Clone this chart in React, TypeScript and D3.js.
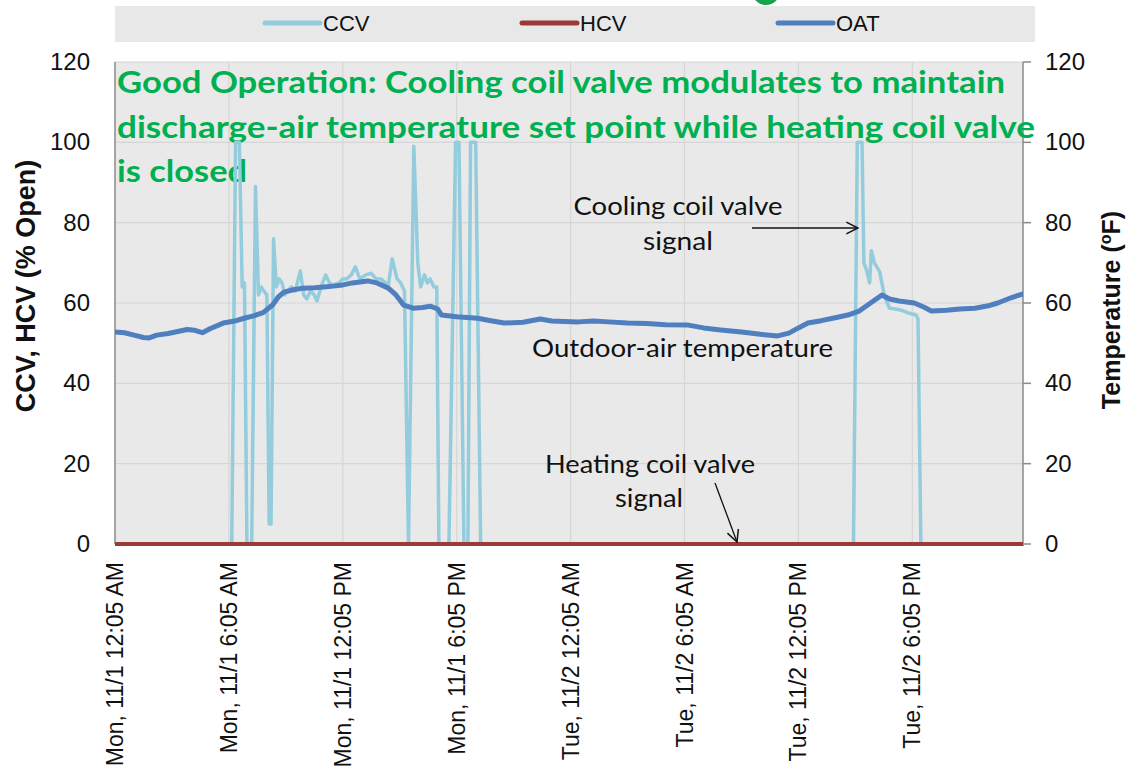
import React from "react";
import * as d3 from "d3";

// ---- Data (hours since Mon 11/1 12:05 AM) ----
const xTickHours = [0, 6, 12, 18, 24, 30, 36, 42];
const xTickLabels = [
  "Mon, 11/1 12:05 AM",
  "Mon, 11/1 6:05 AM",
  "Mon, 11/1 12:05 PM",
  "Mon, 11/1 6:05 PM",
  "Tue, 11/2 12:05 AM",
  "Tue, 11/2 6:05 AM",
  "Tue, 11/2 12:05 PM",
  "Tue, 11/2 6:05 PM",
];
const yTicks = [0, 20, 40, 60, 80, 100, 120];

const ccvSeries: [number, number][] = [
  [0, 0], [6.15, 0], [6.35, 100], [6.55, 100], [6.7, 64], [6.82, 65], [6.95, 0], [7.2, 0],
  [7.4, 89], [7.56, 62], [7.7, 64], [7.83, 63], [8.0, 62], [8.12, 5], [8.22, 5], [8.35, 76],
  [8.5, 64], [8.65, 66], [8.8, 65], [8.95, 62], [9.06, 63], [9.3, 64], [9.5, 63], [9.76, 68],
  [9.94, 62], [10.1, 61], [10.3, 63], [10.5, 62], [10.64, 60.5], [10.85, 64], [11.1, 67],
  [11.3, 65], [11.5, 64.5], [11.8, 65], [12.0, 66], [12.2, 66], [12.45, 67], [12.66, 69],
  [12.9, 66], [13.2, 67], [13.5, 67.4], [13.75, 66], [14.0, 66], [14.25, 65], [14.4, 64.5],
  [14.6, 71], [14.86, 66], [15.05, 65], [15.25, 63], [15.46, 0], [15.74, 99], [15.95, 70],
  [16.1, 64], [16.3, 67], [16.45, 65], [16.6, 66], [16.8, 64], [16.95, 64], [17.06, 0],
  [17.59, 0], [17.94, 100], [18.12, 100], [18.38, 0], [18.59, 0], [18.73, 100], [19.0, 100],
  [19.26, 0],
  [38.9, 0], [39.1, 100], [39.35, 100], [39.45, 70], [39.6, 68], [39.75, 65], [39.84, 73],
  [40.0, 70], [40.28, 67.8], [40.54, 61.6], [40.8, 58.7], [41.1, 58.5], [41.42, 58.2],
  [41.8, 57.5], [42.2, 57], [42.3, 56], [42.45, 0], [47.83, 0],
];

const hcvSeries: [number, number][] = [[0, 0], [47.83, 0]];

const oatSeries: [number, number][] = [
  [0, 52.8], [0.5, 52.6], [1.0, 52.0], [1.5, 51.4], [1.8, 51.3], [2.2, 52.0], [2.8, 52.4],
  [3.3, 52.9], [3.8, 53.4], [4.2, 53.2], [4.6, 52.6], [5.0, 53.6], [5.7, 55.0], [6.3, 55.5],
  [6.8, 56.2], [7.3, 56.8], [7.8, 57.6], [8.3, 59.5], [8.6, 61.5], [8.9, 62.7], [9.4, 63.3],
  [9.9, 63.7], [10.5, 63.8], [11.0, 64.0], [11.5, 64.2], [12.0, 64.5], [12.5, 65.0],
  [13.0, 65.3], [13.3, 65.5], [13.8, 65.0], [14.4, 63.7], [14.8, 62.0], [15.2, 59.5],
  [15.7, 58.7], [16.2, 58.9], [16.6, 59.2], [17.0, 58.5], [17.2, 57.0], [18.0, 56.6],
  [19.1, 56.2], [19.8, 55.6], [20.5, 55.0], [21.5, 55.2], [22.4, 56.0], [23.0, 55.5],
  [24.4, 55.3], [25.2, 55.5], [26.0, 55.3], [27.0, 55.0], [28.0, 54.9], [29.0, 54.6],
  [30.2, 54.5], [31.0, 53.8], [31.9, 53.3], [33.0, 52.8], [34.0, 52.2], [34.9, 51.8],
  [35.5, 52.5], [36.0, 53.8], [36.5, 55.0], [37.2, 55.6], [38.0, 56.4], [38.6, 57.0],
  [39.2, 58.0], [39.8, 60.0], [40.4, 62.0], [40.8, 61.0], [41.3, 60.5], [42.1, 60.0],
  [42.6, 59.0], [43.0, 58.0], [43.8, 58.2], [44.5, 58.5], [45.3, 58.7], [46.0, 59.3],
  [46.5, 60.0], [47.2, 61.3], [47.83, 62.3],
];

const legendItems = ["CCV", "HCV", "OAT"];
const titleLines = [
  "Good Operation: Cooling coil valve modulates to maintain",
  "discharge-air temperature set point while heating coil valve",
  "is closed",
];

// ---- Layout ----
const W = 1132;
const H = 775;
const left = 115;
const right = 1023;
const top = 62;
const bottom = 544;

const COL_CCV = "#93cddd";
const COL_HCV = "#9b3a37";
const COL_OAT = "#4f7fbf";
const GREEN = "#00b050";
const AXIS_FONT = "'Liberation Sans', Arial, sans-serif";
const NOTE_FONT = "Lato, 'Open Sans', sans-serif";

export default function App() {
  const x = d3.scaleLinear().domain([0, 47.83]).range([left, right]);
  const yL = d3.scaleLinear().domain([0, 120]).range([bottom, top]);
  const yR = d3.scaleLinear().domain([0, 120]).range([bottom, top]);

  const lineL = d3
    .line<[number, number]>()
    .x((d) => x(d[0]))
    .y((d) => yL(d[1]));
  const lineR = d3
    .line<[number, number]>()
    .x((d) => x(d[0]))
    .y((d) => yR(d[1]))
    .curve(d3.curveLinear);

  const legendX = [265, 522, 778];
  const legendColors = [COL_CCV, COL_HCV, COL_OAT];

  return (
    <svg
      width={W}
      height={H}
      style={{ position: "absolute", left: 0, top: 0, background: "#fff" }}
    >
      <defs>
        <clipPath id="plotClip">
          <rect x={left} y={top - 3} width={right - left} height={bottom - top + 6} />
        </clipPath>
        <marker
          id="openArrow"
          viewBox="0 0 12 12"
          refX="11"
          refY="6"
          markerWidth="14"
          markerHeight="14"
          markerUnits="userSpaceOnUse"
          orient="auto"
        >
          <path d="M1,1 L11,6 L1,11" fill="none" stroke="#111" strokeWidth="1.3" />
        </marker>
      </defs>

      {/* green blob at top */}
      <circle cx={766} cy={-9} r={14} fill="#16a34a" />

      {/* legend */}
      <rect x={115} y={6} width={920} height={36} fill="#e8e8e8" />
      {legendItems.map((name, i) => (
        <g key={name}>
          <line
            x1={legendX[i]}
            x2={legendX[i] + 55}
            y1={23}
            y2={23}
            stroke={legendColors[i]}
            strokeWidth={5}
            strokeLinecap="round"
          />
          <text
            x={legendX[i] + 58}
            y={31}
            fontFamily={AXIS_FONT}
            fontSize={22}
            fill="#111"
          >
            {name}
          </text>
        </g>
      ))}

      {/* plot background */}
      <rect x={left} y={top} width={right - left} height={bottom - top} fill="#e9e9e9" />

      {/* gridlines */}
      {yTicks.map((t) => (
        <line
          key={"gy" + t}
          x1={left}
          x2={right}
          y1={yL(t)}
          y2={yL(t)}
          stroke="#d6d6d6"
          strokeWidth={1.2}
        />
      ))}
      {xTickHours.slice(1).map((h) => (
        <line
          key={"gx" + h}
          x1={x(h)}
          x2={x(h)}
          y1={top}
          y2={bottom}
          stroke="#d6d6d6"
          strokeWidth={1.2}
        />
      ))}

      {/* axes lines */}
      <line x1={left} x2={left} y1={top} y2={bottom} stroke="#8a8a8a" strokeWidth={1.5} />
      <line x1={right} x2={right} y1={top} y2={bottom + 2} stroke="#8a8a8a" strokeWidth={1.5} />
      {yTicks.map((t) => (
        <line
          key={"rt" + t}
          x1={right}
          x2={right + 8}
          y1={yR(t)}
          y2={yR(t)}
          stroke="#8a8a8a"
          strokeWidth={1.5}
        />
      ))}

      {/* title annotation */}
      {titleLines.map((ln, i) => (
        <text
          key={"t" + i}
          x={117}
          y={93 + i * 44.5}
          fontFamily={NOTE_FONT}
          fontWeight={700}
          fontSize={31}
          fill={GREEN}
          textLength={[888, 918, 130][i]}
          lengthAdjust="spacingAndGlyphs"
        >
          {ln}
        </text>
      ))}

      {/* series */}
      <g clipPath="url(#plotClip)">
        <path
          d={lineL(ccvSeries) || ""}
          fill="none"
          stroke={COL_CCV}
          strokeWidth={3.5}
          strokeLinejoin="round"
        />
        <path
          d={lineR(oatSeries) || ""}
          fill="none"
          stroke={COL_OAT}
          strokeWidth={5}
          strokeLinejoin="round"
          strokeLinecap="round"
        />
        <path
          d={lineL(hcvSeries) || ""}
          fill="none"
          stroke={COL_HCV}
          strokeWidth={4}
        />
      </g>

      {/* annotations */}
      <g fontFamily={NOTE_FONT} fontSize={25} fill="#111">
        <text x={678} y={215} textAnchor="middle" textLength={209} lengthAdjust="spacingAndGlyphs">
          Cooling coil valve
        </text>
        <text x={678} y={250} textAnchor="middle" textLength={70} lengthAdjust="spacingAndGlyphs">
          signal
        </text>
        <text x={532} y={357} textLength={301} lengthAdjust="spacingAndGlyphs">
          Outdoor-air temperature
        </text>
        <text x={650} y={473} textAnchor="middle" textLength={210} lengthAdjust="spacingAndGlyphs">
          Heating coil valve
        </text>
        <text x={649} y={507} textAnchor="middle" textLength={68} lengthAdjust="spacingAndGlyphs">
          signal
        </text>
      </g>
      <line
        x1={752}
        y1={228}
        x2={858}
        y2={228}
        stroke="#111"
        strokeWidth={1.3}
        markerEnd="url(#openArrow)"
      />
      <line
        x1={715}
        y1={483}
        x2={737}
        y2={542}
        stroke="#111"
        strokeWidth={1.3}
        markerEnd="url(#openArrow)"
      />

      {/* left tick labels */}
      {yTicks.map((t) => (
        <text
          key={"ly" + t}
          x={90}
          y={yL(t) + 8}
          textAnchor="end"
          fontFamily={AXIS_FONT}
          fontSize={24}
          fill="#111"
        >
          {t}
        </text>
      ))}
      {/* right tick labels */}
      {yTicks.map((t) => (
        <text
          key={"ry" + t}
          x={1045}
          y={yR(t) + 8}
          fontFamily={AXIS_FONT}
          fontSize={24}
          fill="#111"
        >
          {t}
        </text>
      ))}

      {/* x tick labels */}
      {xTickHours.map((h, i) => (
        <text
          key={"xl" + h}
          transform={`translate(${x(h) + 8},562) rotate(-90)`}
          textAnchor="end"
          fontFamily={AXIS_FONT}
          fontSize={23}
          fill="#111"
        >
          {xTickLabels[i]}
        </text>
      ))}

      {/* axis titles */}
      <text
        transform="translate(35,286) rotate(-90)"
        textAnchor="middle"
        fontFamily={AXIS_FONT}
        fontWeight={700}
        fontSize={27}
        fill="#111"
      >
        CCV, HCV (% Open)
      </text>
      <text
        transform="translate(1120,310) rotate(-90)"
        textAnchor="middle"
        fontFamily={AXIS_FONT}
        fontWeight={700}
        fontSize={25}
        fill="#111"
      >
        Temperature (
        <tspan fontSize={16} dy={-9}>o</tspan>
        <tspan dy={9}>F)</tspan>
      </text>
    </svg>
  );
}
